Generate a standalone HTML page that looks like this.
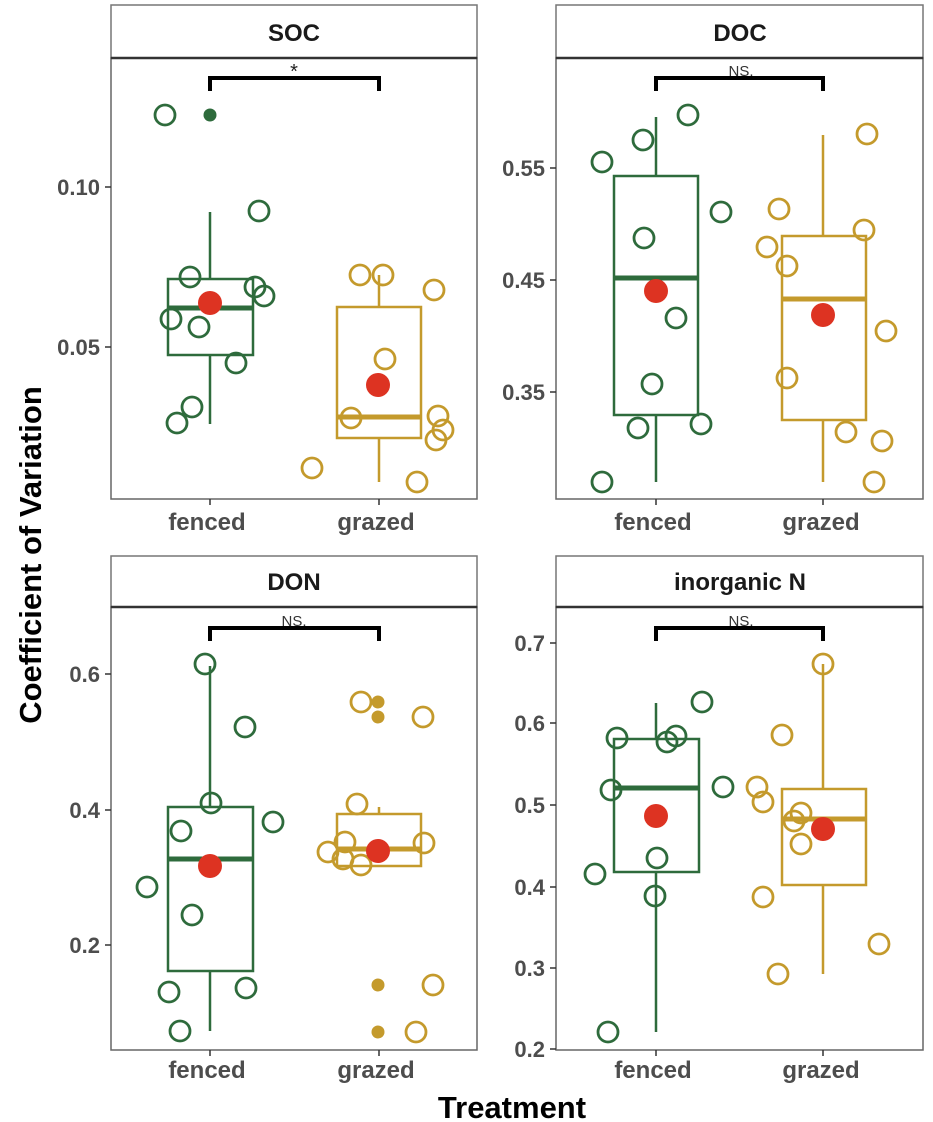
<!DOCTYPE html>
<html><head><meta charset="utf-8"><style>
html,body{margin:0;padding:0;background:#fff;}
svg{display:block;font-family:"Liberation Sans",Arial,sans-serif;}
.tk{font-size:22px;font-weight:bold;fill:#4d4d4d;}
.st{font-size:24px;font-weight:bold;fill:#1a1a1a;}
.g{fill:none;stroke:#2e6b3c;stroke-width:2.8;}
.y{fill:none;stroke:#c49a2c;stroke-width:2.8;}
.gb{fill:none;stroke:#2e6b3c;stroke-width:2.5;}
.yb{fill:none;stroke:#c49a2c;stroke-width:2.5;}
.m{fill:#dd3322;}
.br{fill:none;stroke:#000;stroke-width:4;}
.ax{fill:none;stroke:#666;stroke-width:1.5;}
</style></head><body>
<svg width="933" height="1122" viewBox="0 0 933 1122">
<g>
<rect x="111" y="5" width="366" height="53" fill="#fff" stroke="#777" stroke-width="1.5"/>
<rect x="111" y="58" width="366" height="441" class="ax"/>
<line x1="111" y1="58" x2="477" y2="58" stroke="#333" stroke-width="2.5"/>
<text x="294" y="41" class="st" text-anchor="middle">SOC</text>

<rect x="556" y="5" width="367" height="53" fill="#fff" stroke="#777" stroke-width="1.5"/>
<rect x="556" y="58" width="367" height="441" class="ax"/>
<line x1="556" y1="58" x2="923" y2="58" stroke="#333" stroke-width="2.5"/>
<text x="740" y="41" class="st" text-anchor="middle">DOC</text>

<rect x="111" y="556" width="366" height="51" fill="#fff" stroke="#777" stroke-width="1.5"/>
<rect x="111" y="607" width="366" height="443" class="ax"/>
<line x1="111" y1="607" x2="477" y2="607" stroke="#333" stroke-width="2.5"/>
<text x="294" y="590" class="st" text-anchor="middle">DON</text>

<rect x="556" y="556" width="367" height="51" fill="#fff" stroke="#777" stroke-width="1.5"/>
<rect x="556" y="607" width="367" height="443" class="ax"/>
<line x1="556" y1="607" x2="923" y2="607" stroke="#333" stroke-width="2.5"/>
<text x="740" y="590" class="st" text-anchor="middle">inorganic N</text>
</g>

<g stroke="#333" stroke-width="1.5">
<line x1="105" y1="187" x2="111" y2="187"/><line x1="105" y1="347" x2="111" y2="347"/>
<line x1="550" y1="168" x2="556" y2="168"/><line x1="550" y1="280" x2="556" y2="280"/><line x1="550" y1="392" x2="556" y2="392"/>
<line x1="105" y1="674" x2="111" y2="674"/><line x1="105" y1="810" x2="111" y2="810"/><line x1="105" y1="945" x2="111" y2="945"/>
<line x1="550" y1="643" x2="556" y2="643"/><line x1="550" y1="723" x2="556" y2="723"/><line x1="550" y1="805" x2="556" y2="805"/><line x1="550" y1="887" x2="556" y2="887"/><line x1="550" y1="968" x2="556" y2="968"/><line x1="550" y1="1049" x2="556" y2="1049"/>
<line x1="210" y1="499" x2="210" y2="505"/><line x1="379" y1="499" x2="379" y2="505"/>
<line x1="656" y1="499" x2="656" y2="505"/><line x1="823" y1="499" x2="823" y2="505"/>
<line x1="210" y1="1050" x2="210" y2="1056"/><line x1="379" y1="1050" x2="379" y2="1056"/>
<line x1="656" y1="1050" x2="656" y2="1056"/><line x1="823" y1="1050" x2="823" y2="1056"/>
</g>
<g class="tk" text-anchor="end">
<text x="100" y="195">0.10</text><text x="100" y="355">0.05</text>
<text x="545" y="176">0.55</text><text x="545" y="288">0.45</text><text x="545" y="400">0.35</text>
<text x="100" y="682">0.6</text><text x="100" y="818">0.4</text><text x="100" y="953">0.2</text>
<text x="545" y="651">0.7</text><text x="545" y="731">0.6</text><text x="545" y="813">0.5</text><text x="545" y="895">0.4</text><text x="545" y="976">0.3</text><text x="545" y="1057">0.2</text>
</g>
<g class="tk" text-anchor="middle" style="font-size:24px">
<text x="207" y="530">fenced</text><text x="376" y="530">grazed</text>
<text x="653" y="530">fenced</text><text x="821" y="530">grazed</text>
<text x="207" y="1078">fenced</text><text x="376" y="1078">grazed</text>
<text x="653" y="1078">fenced</text><text x="821" y="1078">grazed</text>
</g>
<text x="512" y="1118" text-anchor="middle" style="font-size:31px;font-weight:bold" fill="#000">Treatment</text>
<text transform="translate(41,555) rotate(-90)" text-anchor="middle" style="font-size:31px;font-weight:bold" fill="#000">Coefficient of Variation</text>

<path class="br" d="M210 91 V78 H379 V91"/>
<text x="294" y="78" text-anchor="middle" style="font-size:20px" fill="#222">*</text>
<path class="br" d="M656 91 V78 H823 V91"/>
<text x="741" y="76" text-anchor="middle" style="font-size:15px" fill="#333">NS.</text>
<path class="br" d="M210 641 V628 H379 V641"/>
<text x="294" y="626" text-anchor="middle" style="font-size:15px" fill="#333">NS.</text>
<path class="br" d="M656 641 V628 H823 V641"/>
<text x="741" y="626" text-anchor="middle" style="font-size:15px" fill="#333">NS.</text>

<!-- SOC -->
<g class="gb"><line x1="210" y1="212" x2="210" y2="279"/><line x1="210" y1="355" x2="210" y2="424"/><rect x="168" y="279" width="85" height="76"/></g>
<line x1="168" y1="308" x2="253" y2="308" stroke="#2e6b3c" stroke-width="5"/>
<g class="g"><circle cx="165" cy="115" r="10"/><circle cx="259" cy="211" r="10"/><circle cx="190" cy="277" r="10"/><circle cx="255" cy="287" r="10"/><circle cx="264" cy="296" r="10"/><circle cx="171" cy="319" r="10"/><circle cx="199" cy="327" r="10"/><circle cx="236" cy="363" r="10"/><circle cx="192" cy="407" r="10"/><circle cx="177" cy="423" r="10"/></g>
<circle cx="210" cy="115" r="6.5" fill="#2e6b3c"/>
<circle cx="210" cy="303" r="12" class="m"/>
<g class="yb"><line x1="379" y1="275" x2="379" y2="307"/><line x1="379" y1="438" x2="379" y2="482"/><rect x="337" y="307" width="84" height="131"/></g>
<line x1="337" y1="417" x2="421" y2="417" stroke="#c49a2c" stroke-width="5"/>
<g class="y"><circle cx="360" cy="275" r="10"/><circle cx="383" cy="275" r="10"/><circle cx="434" cy="290" r="10"/><circle cx="385" cy="359" r="10"/><circle cx="351" cy="418" r="10"/><circle cx="438" cy="416" r="10"/><circle cx="443" cy="430" r="10"/><circle cx="436" cy="440" r="10"/><circle cx="312" cy="468" r="10"/><circle cx="417" cy="482" r="10"/></g>
<circle cx="378" cy="385" r="12" class="m"/>

<!-- DOC -->
<g class="gb"><line x1="656" y1="117" x2="656" y2="176"/><line x1="656" y1="415" x2="656" y2="482"/><rect x="614" y="176" width="84" height="239"/></g>
<line x1="614" y1="278" x2="698" y2="278" stroke="#2e6b3c" stroke-width="5"/>
<g class="g"><circle cx="688" cy="115" r="10"/><circle cx="643" cy="140" r="10"/><circle cx="602" cy="162" r="10"/><circle cx="721" cy="212" r="10"/><circle cx="644" cy="238" r="10"/><circle cx="676" cy="318" r="10"/><circle cx="652" cy="384" r="10"/><circle cx="638" cy="428" r="10"/><circle cx="701" cy="424" r="10"/><circle cx="602" cy="482" r="10"/></g>
<circle cx="656" cy="291" r="12" class="m"/>
<g class="yb"><line x1="823" y1="135" x2="823" y2="236"/><line x1="823" y1="420" x2="823" y2="482"/><rect x="782" y="236" width="84" height="184"/></g>
<line x1="782" y1="299" x2="866" y2="299" stroke="#c49a2c" stroke-width="5"/>
<g class="y"><circle cx="867" cy="134" r="10"/><circle cx="779" cy="209" r="10"/><circle cx="864" cy="230" r="10"/><circle cx="767" cy="247" r="10"/><circle cx="787" cy="266" r="10"/><circle cx="886" cy="331" r="10"/><circle cx="787" cy="378" r="10"/><circle cx="846" cy="432" r="10"/><circle cx="882" cy="441" r="10"/><circle cx="874" cy="482" r="10"/></g>
<circle cx="823" cy="315" r="12" class="m"/>

<!-- DON -->
<g class="gb"><line x1="210" y1="666" x2="210" y2="807"/><line x1="210" y1="971" x2="210" y2="1031"/><rect x="168" y="807" width="85" height="164"/></g>
<line x1="168" y1="859" x2="253" y2="859" stroke="#2e6b3c" stroke-width="5"/>
<g class="g"><circle cx="205" cy="664" r="10"/><circle cx="245" cy="727" r="10"/><circle cx="211" cy="803" r="10"/><circle cx="273" cy="822" r="10"/><circle cx="181" cy="831" r="10"/><circle cx="147" cy="887" r="10"/><circle cx="192" cy="915" r="10"/><circle cx="169" cy="992" r="10"/><circle cx="246" cy="988" r="10"/><circle cx="180" cy="1031" r="10"/></g>
<circle cx="210" cy="866" r="12" class="m"/>
<g class="yb"><line x1="379" y1="807" x2="379" y2="814"/><rect x="337" y="814" width="84" height="52"/></g>
<line x1="337" y1="849" x2="421" y2="849" stroke="#c49a2c" stroke-width="5"/>
<g class="y"><circle cx="361" cy="702" r="10"/><circle cx="423" cy="717" r="10"/><circle cx="357" cy="804" r="10"/><circle cx="424" cy="843" r="10"/><circle cx="328" cy="852" r="10"/><circle cx="345" cy="842" r="10"/><circle cx="343" cy="859" r="10"/><circle cx="361" cy="865" r="10"/><circle cx="433" cy="985" r="10"/><circle cx="416" cy="1032" r="10"/></g>
<g fill="#c49a2c"><circle cx="378" cy="702" r="6.5"/><circle cx="378" cy="717" r="6.5"/><circle cx="378" cy="985" r="6.5"/><circle cx="378" cy="1032" r="6.5"/></g>
<circle cx="378" cy="851" r="12" class="m"/>

<!-- inorganic N -->
<g class="gb"><line x1="656" y1="703" x2="656" y2="739"/><line x1="656" y1="872" x2="656" y2="1032"/><rect x="614" y="739" width="85" height="133"/></g>
<line x1="614" y1="788" x2="699" y2="788" stroke="#2e6b3c" stroke-width="5"/>
<g class="g"><circle cx="702" cy="702" r="10"/><circle cx="617" cy="738" r="10"/><circle cx="667" cy="742" r="10"/><circle cx="676" cy="736" r="10"/><circle cx="611" cy="790" r="10"/><circle cx="723" cy="787" r="10"/><circle cx="657" cy="858" r="10"/><circle cx="595" cy="874" r="10"/><circle cx="655" cy="896" r="10"/><circle cx="608" cy="1032" r="10"/></g>
<circle cx="656" cy="816" r="12" class="m"/>
<g class="yb"><line x1="823" y1="664" x2="823" y2="789"/><line x1="823" y1="885" x2="823" y2="974"/><rect x="782" y="789" width="84" height="96"/></g>
<line x1="782" y1="819" x2="866" y2="819" stroke="#c49a2c" stroke-width="5"/>
<g class="y"><circle cx="823" cy="664" r="10"/><circle cx="782" cy="735" r="10"/><circle cx="757" cy="787" r="10"/><circle cx="763" cy="802" r="10"/><circle cx="801" cy="813" r="10"/><circle cx="794" cy="821" r="10"/><circle cx="801" cy="844" r="10"/><circle cx="763" cy="897" r="10"/><circle cx="879" cy="944" r="10"/><circle cx="778" cy="974" r="10"/></g>
<circle cx="823" cy="829" r="12" class="m"/>
</svg>
</body></html>
